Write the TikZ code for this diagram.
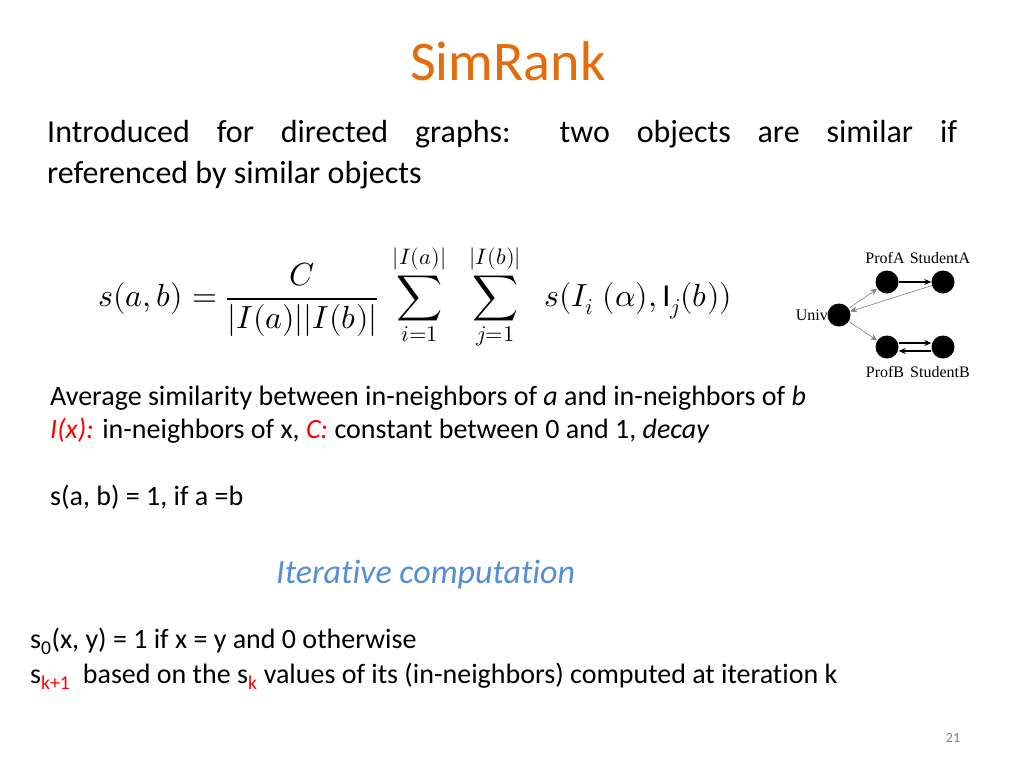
\documentclass[tikz,border=0pt]{standalone}
\usepackage{fontspec}
\usepackage{unicode-math}
\setmainfont{Carlito}[Ligatures=NoCommon]
\setmathfont{Latin Modern Math}
\newfontfamily\tms{Liberation Serif}
\usetikzlibrary{arrows.meta}
\definecolor{ttl}{HTML}{E46C0A}
\definecolor{itc}{HTML}{558ED5}
\begin{document}
\begin{tikzpicture}[x=1pt,y=-1pt,
  dot/.style={circle,fill=black,minimum size=23pt,inner sep=0pt},
  lab/.style={font=\fontsize{16}{18}\selectfont\tms, inner sep=0pt},
  body/.style={font=\fontsize{32}{41}\selectfont, inner sep=0pt, anchor=base west},
  small/.style={font=\fontsize{28}{34}\selectfont, inner sep=0pt, anchor=base west},
  edge/.style={-{Stealth[length=7pt,width=6pt]}, gray, line width=0.6pt},
  bedge/.style={-{Stealth[length=7pt,width=6pt]}, black, line width=1.3pt}]
\useasboundingbox (0,0) rectangle (1024,768);
\node[font=\fontsize{56}{60}\selectfont, text=ttl, inner sep=0pt, anchor=base] (title) at (508,80) {SimRank};
\node[body, text width=910pt, align=justify] (intro) at (47,142) {Introduced for directed graphs: two objects are similar if\linebreak referenced by similar objects};
\node[font=\fontsize{32}{36}\selectfont, inner sep=0pt, anchor=west] (formula) at (98,297)
  {$\displaystyle s(a,b)=\frac{C}{|I(a)||I(b)|}\;\sum_{i=1}^{|I(a)|}\;\;\sum_{j=1}^{|I(b)|}\;\; s(I_i\;(\alpha),\mathrm{I}_j(b))$};
\node[dot] (univ) at (839,315) {};
\node[dot] (profa) at (887,282) {};
\node[dot] (stua) at (943,282) {};
\node[dot] (profb) at (887,347) {};
\node[dot] (stub) at (943,347) {};
\node[lab, anchor=east] (lu) at (828,315) {Univ};
\node[lab] (lpa) at (885,258) {ProfA};
\node[lab] (lsa) at (940,258) {StudentA};
\node[lab] (lpb) at (885,372) {ProfB};
\node[lab] (lsb) at (940,372) {StudentB};
\draw[edge] (univ) -- (profa);
\draw[bedge] (profa) -- (stua);
\draw[edge] (stua) -- (univ);
\draw[edge] (univ) -- (profb);
\draw[bedge] ([yshift=-4pt]stub.west) -- ([yshift=-4pt]profb.east);
\draw[bedge] ([yshift=4pt]profb.east) -- ([yshift=4pt]stub.west);
\node[small] (avg) at (50,405) {Average similarity between in-neighbors of \textit{a} and in-neighbors of \textit{b}};
\node[small] (ix) at (50,438) {\textcolor{red}{\textit{I(x):}} in-neighbors of x, \textcolor{red}{\textit{C:}} constant between 0 and 1, \textit{decay}};
\node[small] (sab) at (50,505) {s(a, b) = 1, if a =b};
\node[body, text=itc, font=\fontsize{34}{40}\selectfont\itshape] (iter) at (276,583) {Iterative computation};
\node[small] (s0) at (30,648) {s\textsubscript{0}(x, y) = 1 if x = y and 0 otherwise};
\node[small] (sk) at (30,683) {s\textsubscript{\textcolor{red}{k+1}}\ \ based on the s\textsubscript{\textcolor{red}{k}} values of its (in-neighbors) computed at iteration k};
\node[font=\fontsize{14}{16}\selectfont, text=gray, inner sep=0pt] (pg) at (953,738) {21};
\end{tikzpicture}
\end{document}
